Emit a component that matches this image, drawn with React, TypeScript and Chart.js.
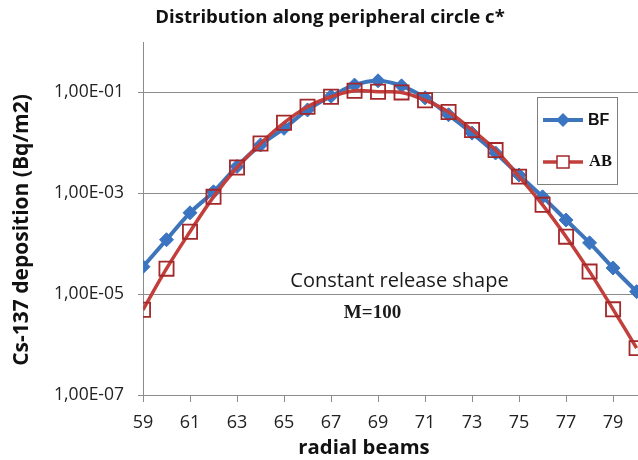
import React, { useEffect, useRef } from "react";
import { Chart, registerables } from "chart.js";

Chart.register(...registerables);

const beams = [59, 60, 61, 62, 63, 64, 65, 66, 67, 68, 69, 70, 71, 72, 73, 74, 75, 76, 77, 78, 79, 80];
const bfValues = [3.5e-5, 1.2e-4, 4.1e-4, 1.07e-3, 3.4e-3, 9.1e-3, 1.94e-2, 4.5e-2, 8.4e-2, 0.14, 0.17, 0.135, 0.078, 0.036, 0.0156, 6.3e-3, 2.3e-3, 8.5e-4, 2.95e-4, 1.04e-4, 3.3e-5, 1.12e-5];
const abValues = [4.9e-6, 3.2e-5, 1.73e-4, 8.5e-4, 3.25e-3, 9.7e-3, 0.025, 0.052, 0.082, 0.108, 0.103, 0.1, 0.07, 0.041, 0.018, 7.2e-3, 2.14e-3, 5.9e-4, 1.38e-4, 2.8e-5, 5.0e-6, 8.5e-7];
const xTicks = [59, 61, 63, 65, 67, 69, 71, 73, 75, 77, 79];
const yTicks = [1e-7, 1e-5, 1e-3, 1e-1];
const seriesNames = ["BF", "AB"];
const titleText = "Distribution along peripheral circle c*";
const yTitle = "Cs-137 deposition (Bq/m2)";
const xTitle = "radial beams";
const note1 = "Constant release shape";
const note2 = "M=100";

const BLUE = "#3d74ba";
const BLUE_PT = "#3b75c2";
const RED = "#c23f3b";
const RED_PT = "#a3282b";
const GRID = "#8c8c8c";
const SANS = "'Open Sans', 'DejaVu Sans', sans-serif";
const SERIF = "'Liberation Serif', 'DejaVu Serif', serif";

const fmt = (v: number) => {
  const e = Math.round(Math.log10(v));
  return "1,00E" + (e < 0 ? "-" : "+") + String(Math.abs(e)).padStart(2, "0");
};

const decorPlugin = {
  id: "decor",
  afterDraw(chart: any) {
    const ctx = chart.ctx as CanvasRenderingContext2D;
    ctx.save();
    ctx.fillStyle = "#111";
    ctx.textAlign = "center";
    ctx.textBaseline = "alphabetic";
    // title
    ctx.font = `bold 18.6px ${SANS}`;
    ctx.fillText(titleText, 330, 23);
    // x title
    ctx.font = `bold 20.3px ${SANS}`;
    ctx.fillText(xTitle, 364, 454);
    // y title
    ctx.save();
    ctx.translate(28, 230);
    ctx.rotate(-Math.PI / 2);
    ctx.font = `bold 21px ${SANS}`;
    ctx.fillText(yTitle, 0, 0);
    ctx.restore();
    // notes
    ctx.fillStyle = "#1a1a1a";
    ctx.font = `20px ${SANS}`;
    ctx.fillText(note1, 399.5, 287);
    ctx.font = `bold 19px ${SERIF}`;
    ctx.fillText(note2, 372.5, 318);
    // legend
    ctx.fillStyle = "#fff";
    ctx.fillRect(537.5, 97.5, 80, 87);
    ctx.strokeStyle = "#7f7f7f";
    ctx.lineWidth = 1;
    ctx.strokeRect(537.5, 97.5, 80, 87);
    // BF
    ctx.strokeStyle = BLUE;
    ctx.lineWidth = 4;
    ctx.beginPath();
    ctx.moveTo(543, 120);
    ctx.lineTo(583, 120);
    ctx.stroke();
    ctx.fillStyle = BLUE_PT;
    ctx.beginPath();
    ctx.moveTo(563, 113);
    ctx.lineTo(570, 120);
    ctx.lineTo(563, 127);
    ctx.lineTo(556, 120);
    ctx.closePath();
    ctx.fill();
    ctx.fillStyle = "#111";
    ctx.textAlign = "left";
    ctx.textBaseline = "middle";
    ctx.font = `bold 16px 'Liberation Sans', Arial, sans-serif`;
    ctx.fillText(seriesNames[0], 588, 121);
    // AB
    ctx.strokeStyle = RED;
    ctx.lineWidth = 3.5;
    ctx.beginPath();
    ctx.moveTo(543, 162);
    ctx.lineTo(583, 162);
    ctx.stroke();
    ctx.strokeStyle = RED_PT;
    ctx.lineWidth = 1.5;
    ctx.fillStyle = "#fff";
    ctx.fillRect(557, 156, 12, 12);
    ctx.strokeRect(557, 156, 12, 12);
    ctx.fillStyle = "#111";
    ctx.font = `bold 16.5px ${SERIF}`;
    ctx.fillText(seriesNames[1], 589, 162);
    ctx.restore();
  },
};

export default function App() {
  const ref = useRef<HTMLCanvasElement | null>(null);
  useEffect(() => {
    document.body.style.margin = "0";
    const canvas = ref.current!;
    const chart = new Chart(canvas, {
      type: "line",
      data: {
        datasets: [
          {
            label: seriesNames[0],
            data: beams.map((b, i) => ({ x: b, y: bfValues[i] })),
            borderColor: BLUE,
            backgroundColor: BLUE_PT,
            pointBackgroundColor: BLUE_PT,
            pointBorderColor: BLUE_PT,
            borderWidth: 4,
            pointStyle: "rectRot",
            pointRadius: 7,
            pointBorderWidth: 1,
            tension: 0.4,
            order: 1,
          },
          {
            label: seriesNames[1],
            data: beams.map((b, i) => ({ x: b, y: abValues[i] })),
            borderColor: RED,
            backgroundColor: "rgba(0,0,0,0)",
            pointBackgroundColor: "rgba(0,0,0,0)",
            pointBorderColor: RED_PT,
            borderWidth: 3.5,
            pointStyle: "rect",
            pointRadius: 10,
            pointBorderWidth: 1.8,
            tension: 0.4,
            order: 0,
          },
        ],
      },
      options: {
        responsive: false,
        animation: false,
        layout: { autoPadding: false, padding: { top: 42, left: 0, right: 0, bottom: 0 } },
        plugins: { legend: { display: false }, tooltip: { enabled: false }, title: { display: false } },
        scales: {
          x: {
            type: "linear",
            min: 59,
            max: 80.06,
            afterBuildTicks: (s: any) => {
              s.ticks = xTicks.map((v) => ({ value: v }));
            },
            afterFit: (s: any) => {
              s.height = 65;
              s.paddingLeft = 0;
              s.paddingRight = 0;
            },
            grid: { drawOnChartArea: false, drawTicks: true, tickLength: 7, color: GRID },
            border: { display: true, color: GRID },
            ticks: {
              autoSkip: false,
              maxRotation: 0,
              padding: 10,
              color: "#222",
              font: { family: SANS, size: 18 },
              callback: (v: any) => String(v),
            },
          },
          y: {
            type: "logarithmic",
            min: 1e-7,
            max: 1,
            afterBuildTicks: (s: any) => {
              s.ticks = yTicks.map((v) => ({ value: v }));
            },
            afterFit: (s: any) => {
              s.width = 143;
              s.paddingTop = 0;
              s.paddingBottom = 0;
            },
            grid: { drawOnChartArea: true, drawTicks: true, tickLength: 5, color: GRID },
            border: { display: true, color: GRID },
            ticks: {
              autoSkip: false,
              padding: 14,
              color: "#222",
              font: { family: SANS, size: 17.5 },
              callback: (v: any) => fmt(Number(v)),
            },
          },
        },
      },
      plugins: [decorPlugin],
    });
    return () => chart.destroy();
  }, []);
  return <canvas ref={ref} width={638} height={460} style={{ display: "block" }} />;
}
